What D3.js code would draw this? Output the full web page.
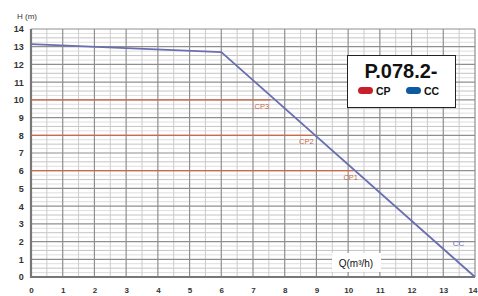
<!DOCTYPE html>
<html><head><meta charset="utf-8">
<script src="https://cdn.jsdelivr.net/npm/d3@7"></script>
<style>body{margin:0;background:#fff}svg{display:block}</style>
</head><body><svg id="c" width="478" height="296"></svg>
<script>
const xTicks = d3.range(0, 15);
const yTicks = d3.range(0, 15);
const ccQ = [0, 6, 14];
const ccH = [13.15, 12.7, 0];
const cpNames = ["CP1", "CP2", "CP3"];
const cpH = [6, 8, 10];
const cpEnd = [10.15, 8.85, 7.55];
const cpLabelQ = [9.85, 8.45, 7.05];
const ccLabelQ = 13.3;
const ccLabelH = 1.75;

const svg = d3.select("#c");
const x = d3.scaleLinear().domain([0, 14]).range([31, 475]);
const y = d3.scaleLinear().domain([0, 14]).range([277, 29]);

const g = svg.append("g");
g.selectAll(".hq").data(d3.range(0.25, 14, 0.25).filter(v => v % 1 !== 0))
  .join("line").attr("x1", x(0)).attr("x2", x(14))
  .attr("y1", d => y(d)).attr("y2", d => y(d))
  .attr("stroke", d => d % 0.5 === 0 ? "#c4c4c4" : "#dedede").attr("stroke-width", 1);
g.selectAll(".vh").data(d3.range(0.5, 14, 1))
  .join("line").attr("y1", y(0)).attr("y2", y(14))
  .attr("x1", d => x(d)).attr("x2", d => x(d))
  .attr("stroke", "#cbcbcb").attr("stroke-width", 1);
g.selectAll(".hm").data(yTicks).join("line")
  .attr("x1", x(0)).attr("x2", x(14)).attr("y1", d => y(d)).attr("y2", d => y(d))
  .attr("stroke", "#8f8f8f").attr("stroke-width", 1.2);
g.selectAll(".vm").data(xTicks).join("line")
  .attr("y1", y(0)).attr("y2", y(14)).attr("x1", d => x(d)).attr("x2", d => x(d))
  .attr("stroke", "#8f8f8f").attr("stroke-width", 1.2);
g.append("line").attr("x1", x(0)).attr("x2", x(0)).attr("y1", y(0)+1).attr("y2", y(14))
  .attr("stroke", "#777").attr("stroke-width", 2.2);
g.append("line").attr("x1", x(0)).attr("x2", x(14)).attr("y1", y(0)).attr("y2", y(0))
  .attr("stroke", "#777").attr("stroke-width", 2);

const xAxis = svg.append("g").attr("transform", `translate(0,${y(0)+7})`)
  .call(d3.axisBottom(x).tickValues(xTicks).tickSize(0).tickFormat(d3.format("d")));
xAxis.select(".domain").remove();
xAxis.selectAll("text").attr("font-family", "Liberation Sans, Arial, sans-serif")
  .attr("font-size", 8).attr("font-weight", "bold").attr("fill", "#333")
  .attr("text-anchor", d => d === 14 ? "end" : "middle").attr("dx", d => d === 14 ? 2 : 0);
const yAxis = svg.append("g").attr("transform", `translate(${x(0)-6},0)`)
  .call(d3.axisLeft(y).tickValues(yTicks).tickSize(0).tickFormat(d3.format("d")));
yAxis.select(".domain").remove();
yAxis.selectAll("text").attr("font-family", "Liberation Sans, Arial, sans-serif")
  .attr("font-size", 9).attr("font-weight", "bold").attr("fill", "#333").attr("dx", "0.2em");

svg.append("text").attr("x", 17).attr("y", 19).text("H (m)")
  .attr("font-family", "Liberation Sans, Arial, sans-serif").attr("font-size", 8).attr("fill", "#333");

const red = "#d9603f";
cpH.forEach((h, i) => {
  svg.append("line").attr("x1", x(0)).attr("x2", x(cpEnd[i])).attr("y1", y(h)).attr("y2", y(h))
    .attr("stroke", red).attr("stroke-width", 1.3).attr("opacity", 0.85);
  svg.append("text").attr("x", x(cpLabelQ[i])).attr("y", y(h) + 9).text(cpNames[i])
    .attr("font-family", "Liberation Sans, Arial, sans-serif").attr("font-size", 7.5)
    .attr("fill", "#c8553a").attr("opacity", 0.9);
});

const line = d3.line().x(d => x(d[0])).y(d => y(d[1]));
svg.append("path").datum(ccQ.map((q, i) => [q, ccH[i]])).attr("d", line)
  .attr("fill", "none").attr("stroke", "#6a6fb0").attr("stroke-width", 1.8);
svg.append("text").attr("x", x(ccLabelQ)).attr("y", y(ccLabelH)).text("CC")
  .attr("font-family", "Liberation Sans, Arial, sans-serif").attr("font-size", 8)
  .attr("fill", "#6a6fb0");

svg.append("rect").attr("x", 332).attr("y", 253).attr("width", 49).attr("height", 19).attr("fill", "#fff");
svg.append("text").attr("x", 356).attr("y", 267).attr("text-anchor", "middle")
  .attr("font-family", "Liberation Sans, Arial, sans-serif").attr("font-size", 10).attr("fill", "#111")
  .text("Q(m³/h)");

svg.append("rect").attr("x", 347.5).attr("y", 55.5).attr("width", 108).attr("height", 52)
  .attr("fill", "#fff").attr("stroke", "#222").attr("stroke-width", 1);
svg.append("text").attr("x", 401).attr("y", 78).attr("text-anchor", "middle")
  .attr("font-family", "Liberation Sans Narrow, Liberation Sans, Arial, sans-serif").attr("font-weight", "bold")
  .attr("font-size", 20).attr("fill", "#111").text("P.078.2-");
const legend = [["CP", "#c8202a", 358], ["CC", "#0d5aa0", 406]];
legend.forEach(([name, col, lx]) => {
  svg.append("rect").attr("x", lx).attr("y", 87).attr("width", 15).attr("height", 7).attr("rx", 3.5)
    .attr("fill", col);
  svg.append("text").attr("x", lx + 18).attr("y", 94.5).text(name)
    .attr("font-family", "Liberation Sans Narrow, Liberation Sans, Arial, sans-serif").attr("font-weight", "bold")
    .attr("font-size", 10.5).attr("fill", "#111");
});
</script></body></html>
